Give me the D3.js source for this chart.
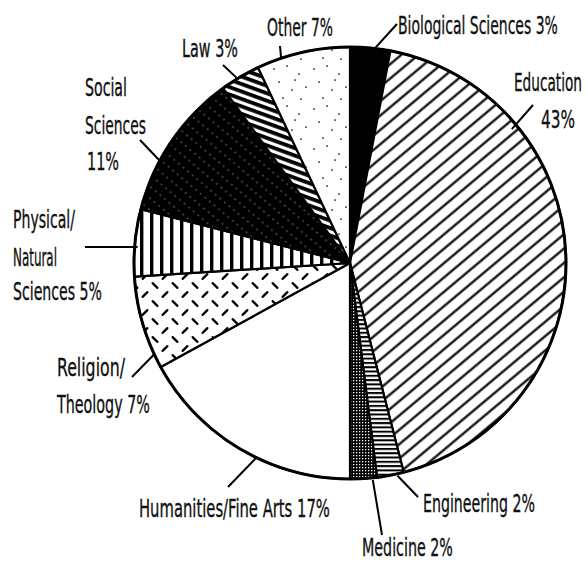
<!DOCTYPE html>
<html>
<head>
<meta charset="utf-8">
<script src="https://cdn.jsdelivr.net/npm/d3@7"></script>
<style>
  body { margin: 0; background: #fff; }
  text { font-family: "Liberation Sans Narrow", "DejaVu Sans Condensed", "Liberation Sans", sans-serif; fill: #111; }
</style>
</head>
<body>
<div id="chart"></div>
<script>
// ---- data ----
const categories = ["Biological Sciences", "Education", "Engineering", "Medicine",
    "Humanities/Fine Arts", "Religion/Theology", "Physical/Natural Sciences",
    "Social Sciences", "Law", "Other"];
const percents = [3, 43, 2, 2, 17, 7, 5, 11, 3, 7];
// label text split over lines, {p} = percent value
const labelText = [
    ["Biological Sciences {p}"],
    ["Education", "{p}"],
    ["Engineering {p}"],
    ["Medicine {p}"],
    ["Humanities/Fine Arts {p}"],
    ["Religion/", "Theology {p}"],
    ["Physical/", "Natural", "Sciences {p}"],
    ["Social", "Sciences", "{p}"],
    ["Law {p}"],
    ["Other {p}"]
];

// ---- layout ----
const W = 588, H = 563;
const cx = 350, cy = 263, R = 216;
const fills = ["url(#solid)", "url(#diag)", "url(#hlines)", "url(#checker)", "#fff",
    "url(#dashes)", "url(#vlines)", "url(#dotsblack)", "url(#lawlines)", "url(#stipple)"];

// leader: angle on the pie (deg, clockwise from top), radius, outer end
const leaders = [
    {a: 6.6, r: 216, x: 397, y: 24},
    {a: 50.4, r: 210, x: 533, y: 105},
    {a: 167.4, r: 218, x: 418, y: 497},
    {a: 174, r: 218, x: 382, y: 535},
    {a: 205.7, r: 216, x: 228, y: 487},
    {a: 245, r: 216, x: 132, y: 377},
    {a: 274.3, r: 213, x: 85, y: 247},
    {a: 298, r: 213, x: 140, y: 140},
    {a: 328.6, r: 216, x: 223, y: 65},
    {a: 341.4, r: 216, x: 280, y: 46}
];
// text lines: x / baseline / width
const labelPos = [
    [[398, 34, 160]],
    [[514, 91, 68], [541, 128, 34]],
    [[423, 512, 112]],
    [[362, 556, 91]],
    [[139, 517, 191]],
    [[57, 376, 68], [57, 413, 93]],
    [[13, 228, 62], [13, 266, 44], [13, 300, 89]],
    [[85, 96, 42], [85, 134, 61], [87, 170, 32]],
    [[182, 57, 56]],
    [[267, 36, 66]]
];

const svg = d3.select("#chart").append("svg")
    .attr("width", W)
    .attr("height", H);

// ---- fill patterns ----
const defs = svg.append("defs");

let p = defs.append("pattern").attr("id", "solid").attr("patternUnits", "userSpaceOnUse")
    .attr("width", 4).attr("height", 4);
p.append("rect").attr("width", 4).attr("height", 4).attr("fill", "#000");

p = defs.append("pattern").attr("id", "diag").attr("patternUnits", "userSpaceOnUse")
    .attr("width", 11).attr("height", 11).attr("patternTransform", "rotate(-40)");
p.append("rect").attr("width", 11).attr("height", 11).attr("fill", "#fff");
p.append("line").attr("x1", 0).attr("x2", 11).attr("y1", 5.5).attr("y2", 5.5)
    .attr("stroke", "#000").attr("stroke-width", 2.2);

p = defs.append("pattern").attr("id", "hlines").attr("patternUnits", "userSpaceOnUse")
    .attr("width", 4).attr("height", 4.3);
p.append("rect").attr("width", 4).attr("height", 4.3).attr("fill", "#fff");
p.append("rect").attr("y", 0).attr("width", 4).attr("height", 2).attr("fill", "#000");

p = defs.append("pattern").attr("id", "checker").attr("patternUnits", "userSpaceOnUse")
    .attr("width", 3).attr("height", 3);
p.append("rect").attr("width", 3).attr("height", 3).attr("fill", "#000");
p.append("rect").attr("width", 1.3).attr("height", 1.3).attr("fill", "#fff");

p = defs.append("pattern").attr("id", "dashes").attr("patternUnits", "userSpaceOnUse")
    .attr("width", 20).attr("height", 18);
p.append("rect").attr("width", 20).attr("height", 18).attr("fill", "#fff");
p.append("line").attr("x1", 2.6).attr("y1", 2.1).attr("x2", 7.4).attr("y2", 6.9)
    .attr("stroke", "#000").attr("stroke-width", 2.2).attr("stroke-linecap", "round");
p.append("line").attr("x1", 12.6).attr("y1", 15.9).attr("x2", 17.4).attr("y2", 11.1)
    .attr("stroke", "#000").attr("stroke-width", 2.2).attr("stroke-linecap", "round");

p = defs.append("pattern").attr("id", "vlines").attr("patternUnits", "userSpaceOnUse")
    .attr("width", 10).attr("height", 10).attr("x", cx);
p.append("rect").attr("width", 10).attr("height", 10).attr("fill", "#fff");
p.append("rect").attr("x", 0).attr("width", 3.4).attr("height", 10).attr("fill", "#000");

p = defs.append("pattern").attr("id", "dotsblack").attr("patternUnits", "userSpaceOnUse")
    .attr("width", 9).attr("height", 6).attr("patternTransform", "rotate(-50)");
p.append("rect").attr("width", 9).attr("height", 6).attr("fill", "#000");
p.append("circle").attr("cx", 2).attr("cy", 3).attr("r", 0.6).attr("fill", "#fff");

p = defs.append("pattern").attr("id", "lawlines").attr("patternUnits", "userSpaceOnUse")
    .attr("width", 7).attr("height", 7).attr("patternTransform", "rotate(20)");
p.append("rect").attr("width", 7).attr("height", 7).attr("fill", "#fff");
p.append("rect").attr("width", 7).attr("height", 3.8).attr("fill", "#000");

p = defs.append("pattern").attr("id", "stipple").attr("patternUnits", "userSpaceOnUse")
    .attr("width", 40).attr("height", 40);
p.append("rect").attr("width", 40).attr("height", 40).attr("fill", "#fff");
const stippleDots = [[4, 6], [17, 3], [29, 11], [36, 24], [9, 19], [22, 27], [13, 35], [31, 36], [25, 17]];
stippleDots.forEach(d => {
    p.append("circle").attr("cx", d[0]).attr("cy", d[1]).attr("r", 0.85).attr("fill", "#000");
});

// ---- pie ----
const pie = d3.pie().sort(null).value(d => d);
const arcs = pie(percents);
const arc = d3.arc().innerRadius(0).outerRadius(R);

const g = svg.append("g").attr("transform", `translate(${cx},${cy})`);

g.selectAll("path.slice")
    .data(arcs)
    .enter()
    .append("path")
    .attr("class", "slice")
    .attr("d", arc)
    .attr("fill", (d, i) => fills[i])
    .attr("stroke", "#000")
    .attr("stroke-width", 2.2)
    .attr("stroke-linejoin", "round");

g.append("circle")
    .attr("r", R)
    .attr("fill", "none")
    .attr("stroke", "#000")
    .attr("stroke-width", 3);

// ---- leaders ----
const rad = a => a * Math.PI / 180;
svg.selectAll("line.leader")
    .data(leaders)
    .enter()
    .append("line")
    .attr("class", "leader")
    .attr("x1", d => cx + d.r * Math.sin(rad(d.a)))
    .attr("y1", d => cy - d.r * Math.cos(rad(d.a)))
    .attr("x2", d => d.x)
    .attr("y2", d => d.y)
    .attr("stroke", "#000")
    .attr("stroke-width", 2);

// ---- labels (squeezed horizontally to the condensed face of the original) ----
categories.forEach((c, i) => {
    labelText[i].forEach((t, j) => {
        const pos = labelPos[i][j];
        const txt = svg.append("text")
            .attr("x", 0)
            .attr("y", 0)
            .attr("font-size", 25)
            .attr("stroke", "#111")
            .attr("stroke-width", 0.35)
            .text(t.replace("{p}", percents[i] + "%"));
        const len = txt.node().getComputedTextLength();
        txt.attr("transform", `translate(${pos[0]},${pos[1]}) scale(${pos[2] / len},1)`);
    });
});
</script>
</body>
</html>
